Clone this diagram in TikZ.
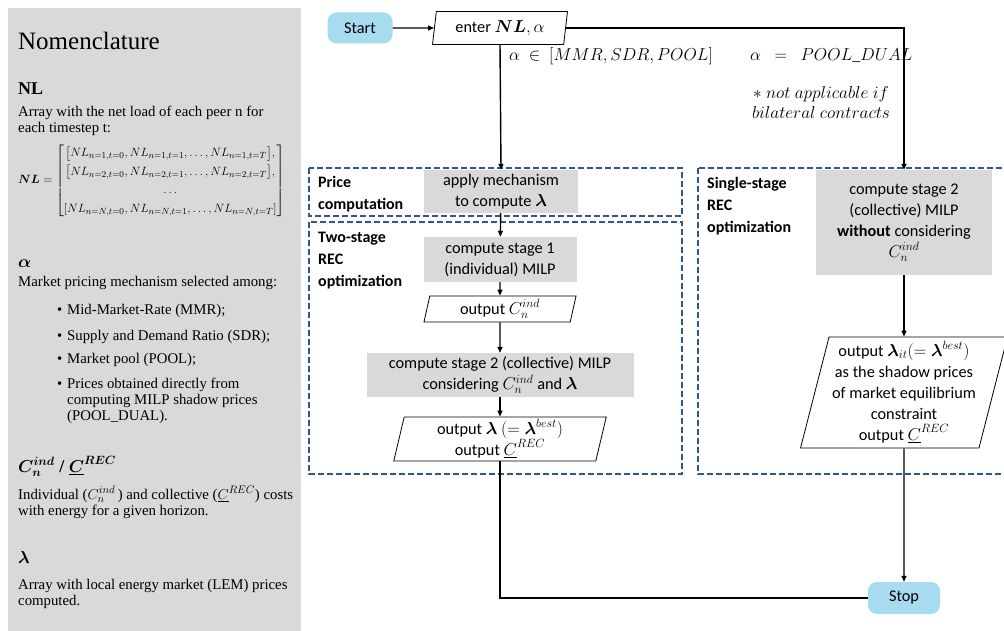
\documentclass[tikz,border=0pt]{standalone}
\usepackage{amsmath}
\usepackage{bm}
\usepackage{fontspec}
\setmainfont{Liberation Serif}
\newfontfamily\flowfont{Carlito}
\usetikzlibrary{arrows.meta,shapes.geometric}
\DeclareMathSizes{16.3}{16.3}{12.2}{9.5}
\DeclareMathSizes{14.8}{14.8}{11.2}{8.6}
\definecolor{panelgray}{RGB}{217,217,217}
\definecolor{boxgray}{RGB}{217,217,217}
\definecolor{termblue}{RGB}{166,219,240}
\definecolor{groupblue}{RGB}{47,85,151}

\tikzset{
  body/.style={font=\fontsize{14.8}{16}\selectfont, anchor=base west, inner sep=0pt, align=left},
  heading/.style={font=\fontsize{18}{20}\selectfont\bfseries, anchor=base west, inner sep=0pt},
  flow/.style={font=\flowfont\fontsize{16.3}{21}\selectfont, align=center, inner sep=0pt},
  terminal/.style={flow, fill=termblue, rounded corners=9pt, minimum width=65pt, minimum height=31pt},
  process/.style={flow, fill=boxgray},
  io/.style={flow, draw, line width=0.8pt, shape=trapezium, trapezium left angle=#1, trapezium right angle=180-#1, trapezium stretches=true},
  io/.default=80,
  conn/.style={line width=1.4pt},
  arrow/.style={conn, -{Triangle[length=6pt,width=5pt]}},
  group/.style={draw=groupblue, line width=1.6pt, dash pattern=on 6pt off 3pt},
  grouplabel/.style={font=\flowfont\bfseries\fontsize{16}{22}\selectfont, anchor=base west, align=left, inner sep=0pt},
  branch/.style={anchor=base west, inner sep=0pt, font=\fontsize{16}{18}\selectfont},
  note/.style={font=\fontsize{17.5}{20}\selectfont, inner sep=0pt},
}

\begin{document}
\begin{tikzpicture}[x=1pt,y=-1pt]
\clip (0,0) rectangle (1004,631);
\fill[white] (0,0) rectangle (1004,631);

% ---------- nomenclature panel ----------
% (multi-line nodes are anchored at the baseline of their last line)
\fill[panelgray] (8,8) rectangle (301,631);
\node[anchor=base west, inner sep=0pt, font=\fontsize{25}{28}\selectfont] (nomtitle) at (18,50) {Nomenclature};

\node[heading] (hNL) at (18,95) {NL};
\node[body] (dNL) at (18,133) {Array with the net load of each peer n for\\each timestep t:};
\node[anchor=west, inner sep=0pt, font=\fontsize{12.9}{17.5}\selectfont] (mNL) at (18,181)
  {\renewcommand{\arraystretch}{1.06}%
   $\bm{NL} = \begin{bmatrix}
     \bigl[NL_{n=1,t=0}, NL_{n=1,t=1}, \dots, NL_{n=1,t=T}\bigr],\\
     \bigl[NL_{n=2,t=0}, NL_{n=2,t=1}, \dots, NL_{n=2,t=T}\bigr],\\
     \dots\\
     [NL_{n=N,t=0}, NL_{n=N,t=1}, \dots, NL_{n=N,t=T}]
   \end{bmatrix}$};

\node[heading] (hAlpha) at (18,268) {$\bm{\alpha}$};
\node[body] (dAlpha) at (18,287) {Market pricing mechanism selected among:};
\node[body] (b1) at (57,314) {•};
\node[body] (t1) at (67,314) {Mid-Market-Rate (MMR);};
\node[body] (b2) at (57,340) {•};
\node[body] (t2) at (67,340) {Supply and Demand Ratio (SDR);};
\node[body] (b3) at (57,363) {•};
\node[body] (t3) at (67,363) {Market pool (POOL);};
\node[body] (b4) at (57,388) {•};
\node[body] (t4) at (67,420) {Prices obtained directly from\\computing MILP shadow prices\\(POOL\_DUAL).};

\node[heading] (hCost) at (18,472) {$\bm{C_n^{ind}}$ / $\underline{\bm{C}}^{\bm{REC}}$};
\node[body] (dCost) at (18,515) {Individual ($C_n^{ind}$\,) and collective ($\underline{C}^{REC}$) costs\\with energy for a given horizon.};

\node[heading] (hLam) at (18,563) {$\bm{\lambda}$};
\node[body] (dLam) at (18,605) {Array with local energy market (LEM) prices\\computed.};

% ---------- group frames ----------
\draw[group] (309,168) rectangle (682,216);
\draw[group] (309,222) rectangle (682,474);
\draw[group] (698,168) rectangle (1012,474);
\node[grouplabel] (gPrice) at (318,210) {Price\\computation};
\node[grouplabel] (gTwo) at (318,287) {Two-stage\\REC\\optimization};
\node[grouplabel] (gSingle) at (707,233) {Single-stage\\REC\\optimization};

% ---------- flow nodes ----------
\node[terminal] (start) at (360,28) {Start};
\node[io, minimum width=136pt, minimum height=33pt] (enter) at (500,28) {enter $\bm{NL}, \alpha$};

\node[process, minimum width=154pt, minimum height=43pt] (mech) at (501,191.5) {apply mechanism\\to compute $\bm{\lambda}$};
\node[process, minimum width=153pt, minimum height=45pt] (stage1) at (500,259.5) {compute stage 1\\(individual) MILP};
\node[io, minimum width=153pt, minimum height=26pt] (outind) at (500,309) {output $C_n^{ind}$};
\node[process, minimum width=267pt, minimum height=44pt] (stage2) at (500,375) {compute stage 2 (collective) MILP\\considering $C_n^{ind}$ and $\bm{\lambda}$};
\node[io, minimum width=213pt, minimum height=44pt] (outlam) at (500,439) {output $\bm{\lambda}$ $(=\bm{\lambda}^{best})$\\output $\underline{C}^{REC}$};

\node[process, minimum width=176pt, minimum height=105pt] (single) at (904,222.5) {compute stage 2\\(collective) MILP\\\textbf{without} considering\\$C_n^{ind}$};
\node[io=75, minimum width=207pt, minimum height=111pt] (outsingle) at (904,392.5) {output $\bm{\lambda}_{it}(=\bm{\lambda}^{best})$\\as the shadow prices\\of market equilibrium\\constraint\\output $\underline{C}^{REC}$};

\node[terminal, minimum width=72pt, minimum height=32pt] (stop) at (904,598) {Stop};

% ---------- branch labels ----------
\node[branch] (lblList) at (509,61) {$\alpha\ \in\ [MMR, SDR, POOL]$};
\node[branch] (lblDual) at (750,61) {$\alpha\ \;=\ \;POOL\_DUAL$};
\node[note, anchor=base, align=center] (lblNote) at (821,119) {$\ast\ not\ applicable\ if$\\$bilateral\ contracts$};

% ---------- connectors ----------
\draw[arrow] (start) -- (enter);
\draw[arrow] (enter.south) -- (mech.north);
\draw[arrow] (enter.east) -| (single.north);
\draw[arrow] (mech) -- (stage1);
\draw[arrow] (stage1) -- (outind);
\draw[arrow] (outind.south) -- (stage2.north);
\draw[arrow] (stage2) -- (outlam);
\draw[arrow] (single) -- (outsingle);
\draw[arrow] (outsingle.south) -- (stop.north);
\draw[conn] (outlam.south) |- (stop.west);
\end{tikzpicture}
\end{document}
